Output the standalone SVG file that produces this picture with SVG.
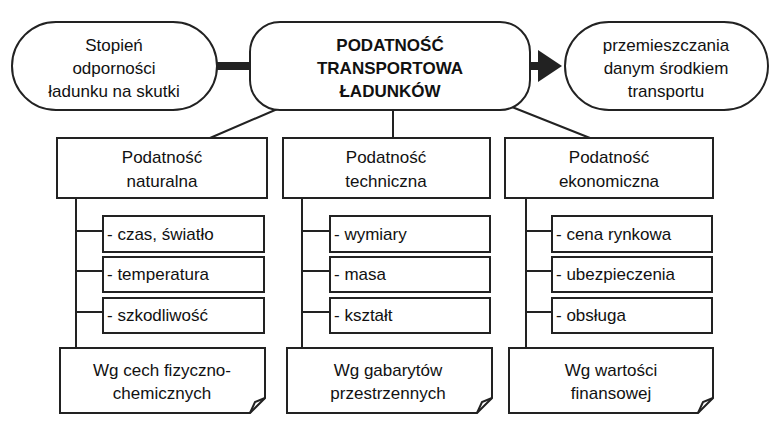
<svg xmlns="http://www.w3.org/2000/svg" width="776" height="430" viewBox="0 0 776 430">
<style>
.s{fill:#fff;stroke:#222;stroke-width:2}
.l{stroke:#222;stroke-width:2;fill:none}
text{font-family:"Liberation Sans",Arial,sans-serif;font-size:17px;fill:#111;text-anchor:middle}
.b{font-weight:bold}
.i{text-anchor:start}
</style>
<defs>
<marker id="ah" markerWidth="3" markerHeight="4" refX="1" refY="2" orient="auto"><path d="M0,0L3,2L0,4Z" fill="#222"/></marker>
</defs>
<rect width="776" height="430" fill="#fff"/>
<g id="connectors">
<line x1="217" y1="66" x2="250" y2="66" style="stroke:#222;stroke-width:8"/>
<line x1="530" y1="66" x2="546" y2="66" style="stroke:#222;stroke-width:8" marker-end="url(#ah)"/>
<path class="l" d="M282,107L210,138M393,110V138M512,107L590,138"/>
<path class="l" d="M76,198V348M76,231H103M76,271H103M76,312H103"/>
<path class="l" d="M302,198V348M302,231H330M302,271H330M302,312H330"/>
<path class="l" d="M526,198V348M526,231H552M526,271H552M526,312H552"/>
</g>
<g id="left"><rect class="s" x="12" y="22" width="205" height="88" rx="44"/><text x="114" y="51">Stopień</text><text x="114" y="74">odporności</text><text x="114" y="97">ładunku na skutki</text></g>
<g id="center"><rect class="s" x="250" y="22" width="280" height="88" rx="30"/><text class="b" x="390" y="51">PODATNOŚĆ</text><text class="b" x="390" y="74">TRANSPORTOWA</text><text class="b" x="390" y="97">ŁADUNKÓW</text></g>
<g id="right"><rect class="s" x="565" y="22" width="203" height="88" rx="44"/><text x="666" y="51">przemieszczania</text><text x="666" y="74">danym środkiem</text><text x="666" y="97">transportu</text></g>
<g id="c1"><rect class="s" x="57" y="138" width="210" height="60"/><text x="162" y="163">Podatność</text><text x="162" y="187">naturalna</text></g>
<g id="c2"><rect class="s" x="283" y="138" width="207" height="60"/><text x="386" y="163">Podatność</text><text x="386" y="187">techniczna</text></g>
<g id="c3"><rect class="s" x="505" y="138" width="208" height="60"/><text x="609" y="163">Podatność</text><text x="609" y="187">ekonomiczna</text></g>
<g id="i11"><rect class="s" x="103" y="216" width="161" height="36"/><text class="i" x="107" y="240">- czas, światło</text></g>
<g id="i12"><rect class="s" x="103" y="257" width="161" height="35"/><text class="i" x="107" y="280">- temperatura</text></g>
<g id="i13"><rect class="s" x="103" y="298" width="161" height="35"/><text class="i" x="107" y="321">- szkodliwość</text></g>
<g id="i21"><rect class="s" x="330" y="216" width="160" height="36"/><text class="i" x="334" y="240">- wymiary</text></g>
<g id="i22"><rect class="s" x="330" y="257" width="160" height="35"/><text class="i" x="334" y="280">- masa</text></g>
<g id="i23"><rect class="s" x="330" y="298" width="160" height="35"/><text class="i" x="334" y="321">- kształt</text></g>
<g id="i31"><rect class="s" x="552" y="216" width="160" height="36"/><text class="i" x="556" y="240">- cena rynkowa</text></g>
<g id="i32"><rect class="s" x="552" y="257" width="160" height="35"/><text class="i" x="556" y="280">- ubezpieczenia</text></g>
<g id="i33"><rect class="s" x="552" y="298" width="160" height="35"/><text class="i" x="556" y="321">- obsługa</text></g>
<g id="n1"><path class="s" d="M60,348H265V398L250,413H60Z"/><path class="l" d="M250,413L255,402L265,398"/><text x="162" y="376">Wg cech fizyczno-</text><text x="162" y="399">chemicznych</text></g>
<g id="n2"><path class="s" d="M287,348H492V398L477,413H287Z"/><path class="l" d="M477,413L482,402L492,398"/><text x="388" y="376">Wg gabarytów</text><text x="388" y="399">przestrzennych</text></g>
<g id="n3"><path class="s" d="M509,348H713V398L698,413H509Z"/><path class="l" d="M698,413L703,402L713,398"/><text x="611" y="376">Wg wartości</text><text x="611" y="399">finansowej</text></g>
</svg>
